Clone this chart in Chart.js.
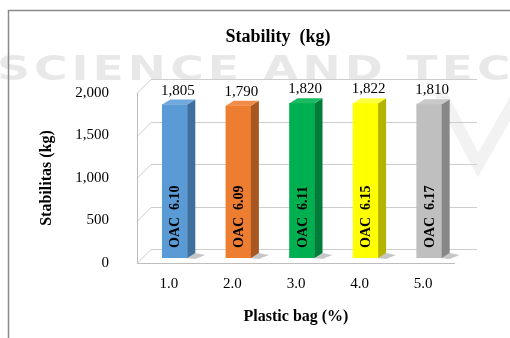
<!DOCTYPE html>
<html>
<head>
<meta charset="utf-8">
<script src="https://cdn.jsdelivr.net/npm/chart.js@4.4.1/dist/chart.umd.min.js"></script>
<style>
  html, body { margin: 0; padding: 0; background: #fff; }
  canvas { display: block; }
</style>
</head>
<body>
<canvas id="stabilityChart" width="510" height="338"></canvas>
<script>
/* Data */

const categories = ["1.0", "2.0", "3.0", "4.0", "5.0"];
const stabilityValues = [1805, 1790, 1820, 1822, 1810];
const oacValues = ["6.10", "6.09", "6.11", "6.15", "6.17"];
const yTickValues = [0, 500, 1000, 1500, 2000];

const frontColors = ["#5b9bd5", "#ed7d31", "#00b050", "#ffff00", "#bfbfbf"];
const sideColors = ["#3f6f9c", "#a65722", "#007d38", "#b3b300", "#878787"];
const topColors = ["#6ea8dc", "#f08c47", "#1abb62", "#ffff40", "#c9c9c9"];

const serif = "'Liberation Serif', 'Times New Roman', serif";

/* 3D look */

const barShift = { x: 6, y: -5 };
const barDepth = { x: 8, y: -5 };
const wallDepth = { x: 14, y: -14 };

const threeDPlugin = {
  id: "threeD",
  beforeDraw(chart) {
    const ctx = chart.ctx;
    ctx.save();
    ctx.fillStyle = "#ffffff";
    ctx.fillRect(0, 0, chart.width, chart.height);

    // faint watermark behind the chart
    ctx.fillStyle = "rgba(0,0,0,0.09)";
    ctx.font = "bold 34px 'DejaVu Sans', sans-serif";
    ctx.letterSpacing = "3px";
    ctx.textBaseline = "alphabetic";
    const wm = "SCIENCE AND TECH";
    const w = ctx.measureText(wm).width;
    ctx.translate(-3, 80);
    ctx.scale(560 / w, 1);
    ctx.fillText(wm, 0, 0);
    ctx.restore();

    ctx.save();
    ctx.strokeStyle = "rgba(0,0,0,0.05)";
    ctx.lineWidth = 12;
    ctx.beginPath();
    ctx.moveTo(440, 92);
    ctx.lineTo(478, 165);
    ctx.lineTo(515, 100);
    ctx.stroke();

    // outer border
    ctx.strokeStyle = "#8a8a8a";
    ctx.lineWidth = 1.5;
    ctx.beginPath();
    ctx.moveTo(8.5, chart.height);
    ctx.lineTo(8.5, 10.5);
    ctx.lineTo(chart.width, 10.5);
    ctx.stroke();

    // title
    ctx.fillStyle = "#000";
    ctx.font = "bold 18px " + serif;
    ctx.textAlign = "center";
    ctx.textBaseline = "middle";
    ctx.fillText("Stability  (kg)", 278, 37);
    ctx.restore();
  },
  beforeDatasetsDraw(chart) {
    const ctx = chart.ctx;
    const area = chart.chartArea;
    const yScale = chart.scales.y;

    ctx.save();
    ctx.lineWidth = 1;
    ctx.strokeStyle = "#cdcdcd";
    yTickValues.forEach(v => {
      const y = Math.round(yScale.getPixelForValue(v)) + 0.5;
      ctx.beginPath();
      ctx.moveTo(area.left, y);
      ctx.lineTo(area.left + wallDepth.x, y + wallDepth.y);
      ctx.lineTo(area.right + 22, y + wallDepth.y);
      ctx.stroke();
    });

    ctx.strokeStyle = "#bdbdbd";
    ctx.beginPath();
    ctx.moveTo(area.left + 0.5, area.top);
    ctx.lineTo(area.left + 0.5, area.bottom + 0.5);
    ctx.lineTo(area.right, area.bottom + 0.5);
    ctx.stroke();

    // bar shadows on the floor
    const meta = chart.getDatasetMeta(0);
    ctx.fillStyle = "rgba(0,0,0,0.22)";
    meta.data.forEach(bar => {
      const x2 = bar.x + bar.width / 2 + barShift.x;
      const b = bar.base + barShift.y;
      ctx.beginPath();
      ctx.moveTo(x2 - 2, b);
      ctx.lineTo(x2 + barDepth.x, b + barDepth.y);
      ctx.lineTo(x2 + barDepth.x + 10, b + barDepth.y + 2);
      ctx.lineTo(x2 + 8, b + 1);
      ctx.closePath();
      ctx.fill();
    });
    ctx.restore();

    ctx.save();
    ctx.translate(barShift.x, barShift.y);
  },
  afterDatasetsDraw(chart) {
    const ctx = chart.ctx;
    const meta = chart.getDatasetMeta(0);

    meta.data.forEach((bar, i) => {
      const x1 = bar.x - bar.width / 2;
      const x2 = bar.x + bar.width / 2;
      const top = bar.y;
      const base = bar.base;

      ctx.fillStyle = sideColors[i];
      ctx.beginPath();
      ctx.moveTo(x2, top);
      ctx.lineTo(x2 + barDepth.x, top + barDepth.y);
      ctx.lineTo(x2 + barDepth.x, base + barDepth.y);
      ctx.lineTo(x2, base);
      ctx.closePath();
      ctx.fill();

      ctx.fillStyle = topColors[i];
      ctx.beginPath();
      ctx.moveTo(x1, top);
      ctx.lineTo(x1 + barDepth.x, top + barDepth.y);
      ctx.lineTo(x2 + barDepth.x, top + barDepth.y);
      ctx.lineTo(x2, top);
      ctx.closePath();
      ctx.fill();

      // value above the bar
      ctx.fillStyle = "#000";
      ctx.font = "15px " + serif;
      ctx.textAlign = "center";
      ctx.textBaseline = "middle";
      ctx.fillText(stabilityValues[i].toLocaleString("en-US"), bar.x + 3, top - 14);

      // OAC label inside the bar
      ctx.save();
      ctx.translate(bar.x, base - 10);
      ctx.rotate(-Math.PI / 2);
      ctx.font = "bold 14px " + serif;
      ctx.textAlign = "left";
      ctx.textBaseline = "middle";
      ctx.fillText("OAC  " + oacValues[i], 0, 1);
      ctx.restore();
    });

    ctx.restore();
  }
};

/* Chart */

new Chart(document.querySelector("#stabilityChart"), {
  type: "bar",
  data: {
    labels: categories,
    datasets: [
      {
        label: "Stability",
        data: stabilityValues,
        backgroundColor: frontColors,
        borderWidth: 0,
        barThickness: 25
      }
    ]
  },
  options: {
    responsive: false,
    animation: false,
    devicePixelRatio: 1,
    layout: {
      padding: { top: 93, right: 55, left: 0, bottom: 0 }
    },
    plugins: {
      legend: { display: false },
      tooltip: { enabled: false }
    },
    scales: {
      x: {
        grid: { display: false },
        border: { display: false },
        ticks: {
          color: "#000",
          padding: 4,
          font: { family: serif, size: 15 }
        },
        title: {
          display: true,
          text: "Plastic bag (%)",
          color: "#000",
          font: { family: serif, size: 16, weight: "bold" },
          padding: { top: 0, bottom: 12 }
        },
        afterFit(scale) {
          scale.height = 75;
        }
      },
      y: {
        min: 0,
        max: 2000,
        grid: { display: false },
        border: { display: false },
        afterBuildTicks(scale) {
          scale.ticks = yTickValues.map(v => ({ value: v }));
        },
        ticks: {
          color: "#000",
          padding: 20,
          font: { family: serif, size: 15 },
          callback: v => v.toLocaleString("en-US")
        },
        title: {
          display: true,
          text: "Stabilitas (kg)",
          color: "#000",
          font: { family: serif, size: 16, weight: "bold" },
          padding: { top: 37, bottom: 0 }
        },
        afterFit(scale) {
          scale.width = 137;
        }
      }
    }
  },
  plugins: [threeDPlugin]
});
</script>
</body>
</html>
